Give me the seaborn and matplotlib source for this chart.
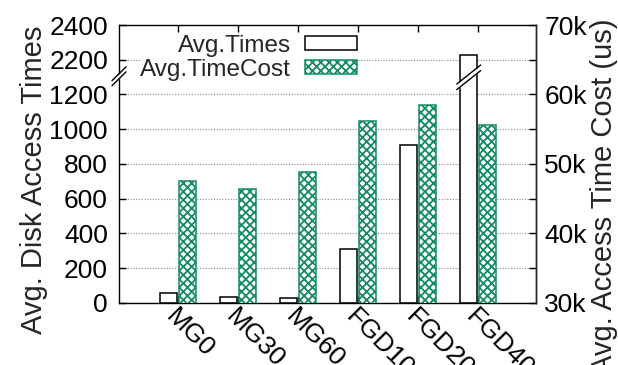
import numpy as np
import pandas as pd
import matplotlib
matplotlib.use('Agg')
from matplotlib import pyplot as plt
from matplotlib.patches import Patch
from matplotlib.ticker import FixedLocator
import matplotlib.transforms as mtransforms
import seaborn as sns

categories = ['MG0', 'MG30', 'MG60', 'FGD10', 'FGD20', 'FGD40']
avg_times = [59, 36, 27, 309, 910, 2230]
avg_time_cost = [47500, 46400, 48800, 56200, 58500, 55600]
series = ['Avg.Times', 'Avg.TimeCost']

left_ticks = [0, 200, 400, 600, 800, 1000, 1200, 2200, 2400]
right_ticks = [30000, 40000, 50000, 60000, 70000]
right_minor = [35000, 45000, 55000, 65000]
right_labels = ['30k', '40k', '50k', '60k', '70k']

# left axis is broken: 1200 is followed directly by 2200
BREAK_LO, BREAK_HI = 1200, 2000


def squash(v):
    return v if v <= BREAK_LO else v - (BREAK_HI - BREAK_LO)


def draw_break(ax, xc, yc, dx, dy, gap):
    xs = np.array([xc - dx, xc + dx])
    lower = np.array([yc - dy, yc + dy]) - gap / 2
    upper = lower + gap
    ax.fill_between(xs, lower, upper, color='white', lw=0, zorder=9, clip_on=False)
    ax.plot(xs, lower, color='black', lw=1, zorder=10, clip_on=False)
    ax.plot(xs, upper, color='black', lw=1, zorder=10, clip_on=False)


sns.set_style('ticks')
plt.rcParams['font.family'] = ['Liberation Sans', 'DejaVu Sans']
plt.rcParams['hatch.linewidth'] = 1.3

green = '#138a66'

df = pd.DataFrame({
    'cat': categories * 2,
    'series': [series[0]] * len(categories) + [series[1]] * len(categories),
    'value': avg_times + avg_time_cost,
})
df['plot_value'] = [squash(v) if s == series[0] else v
                    for s, v in zip(df['series'], df['value'])]

fig = plt.figure(figsize=(6.18, 3.65), dpi=100)
ax = fig.add_axes([0.1926, 0.1699, 0.6748, 0.7616])
ax2 = ax.twinx()

common = dict(x='cat', y='plot_value', hue='series', hue_order=series,
              order=categories, width=0.62, gap=0.1, dodge=True, legend=False,
              saturation=1, errorbar=None,
              palette={s: 'white' for s in series}, linewidth=1.1)
sns.barplot(data=df[df['series'] == series[0]], ax=ax, edgecolor='black', **common)
sns.barplot(data=df[df['series'] == series[1]], ax=ax2, edgecolor=green,
            hatch='xxxx', **common)

ax.set_xlim(-0.983, 5.967)
ax.set_ylim(0, 1600)
ax.set_yticks([squash(t) for t in left_ticks])
ax.set_yticklabels([str(t) for t in left_ticks])
ax2.set_ylim(30000, 70000)
ax2.set_yticks(right_ticks)
ax2.set_yticklabels(right_labels)
ax2.yaxis.set_minor_locator(FixedLocator(right_minor))

ax.set_xticks(range(len(categories)))
ax.set_xticklabels(categories, rotation=-45, ha='left', va='top',
                   rotation_mode='anchor')
shift = mtransforms.ScaledTranslation(-14 / 100, 0, fig.dpi_scale_trans)
for lbl in ax.get_xticklabels():
    lbl.set_transform(lbl.get_transform() + shift)

ax.tick_params(axis='both', direction='in', length=5, width=1,
               labelsize=19, colors='black')
ax.tick_params(axis='x', top=True, pad=1)
ax.tick_params(axis='y', pad=8, right=False)
ax2.tick_params(axis='y', which='both', direction='in', length=5, width=1,
                labelsize=19, pad=6, colors='black')

for s in ax.spines.values():
    s.set_linewidth(1)
    s.set_color('black')
for side in ['left', 'top', 'bottom']:
    ax2.spines[side].set_visible(False)
ax2.spines['right'].set_linewidth(1)

ax.set_axisbelow(True)
ax.grid(axis='y', linestyle=(0, (1, 1.5)), color='#888888', lw=0.8)
ax.xaxis.grid(False)

ax.set_xlabel('')
ax.set_ylabel('')
ax2.set_xlabel('')
ax2.set_ylabel('')

# break marks on the left axis and on the clipped FGD40 bar
draw_break(ax, -0.983, 1305, 0.117, 40, 29)
draw_break(ax, 4.845, 1299, 0.2, 55, 32)

handles = [Patch(facecolor='white', edgecolor='black', lw=1.1),
           Patch(facecolor='white', edgecolor=green, hatch='xxxx', lw=1.1)]
ax.legend(handles, series, loc='upper right', bbox_to_anchor=(0.571, 0.964),
          borderaxespad=0, borderpad=0, frameon=True, fancybox=False,
          facecolor='white', edgecolor='none', framealpha=1,
          markerfirst=False, fontsize=17.5, handlelength=2.13,
          handleheight=0.5, handletextpad=0.6, labelspacing=0.08)

fig.text(34 / 618, 1 - 180 / 365, 'Avg. Disk Access Times', rotation=90,
         ha='center', va='center', fontsize=21)
fig.text(604 / 618, 1 - 196 / 365, 'Avg. Access Time Cost (us)', rotation=90,
         ha='center', va='center', fontsize=21)

fig.savefig('out.png', dpi=100)
